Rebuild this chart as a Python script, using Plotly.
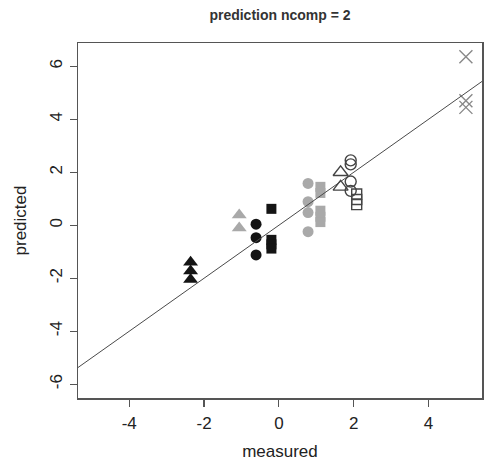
import plotly.graph_objects as go

# ---- data ----
groups = ["g1", "g2", "g3", "g4", "g5", "g6", "g7", "g8", "g9", "g10"]
measured = {
    "g1": [-2.36, -2.36, -2.36],
    "g2": [-1.06, -1.06],
    "g3": [-0.61, -0.61, -0.61],
    "g4": [-0.2, -0.2, -0.2, -0.2],
    "g5": [0.78, 0.78, 0.78, 0.78],
    "g6": [1.11, 1.11, 1.11, 1.11, 1.11],
    "g7": [1.65, 1.65],
    "g8": [1.92, 1.92, 1.92, 1.92],
    "g9": [2.08, 2.08, 2.08],
    "g10": [5.0, 5.0, 5.0],
}
predicted = {
    "g1": [-1.4, -1.73, -2.05],
    "g2": [0.39, -0.1],
    "g3": [0.04, -0.47, -1.12],
    "g4": [0.62, -0.55, -0.72, -0.88],
    "g5": [1.58, 0.89, 0.48, -0.24],
    "g6": [1.45, 1.22, 0.55, 0.32, 0.12],
    "g7": [2.0, 1.45],
    "g8": [2.45, 2.3, 1.65, 1.3],
    "g9": [1.18, 0.97, 0.78],
    "g10": [6.36, 4.7, 4.45],
}
x_ticks = [-4, -2, 0, 2, 4]
y_ticks = [-6, -4, -2, 0, 2, 4, 6]
abline_intercept = 0.0
abline_slope = 1.0

# ---- styles ----
BLACK = "#141414"
GREY = "#a9a9a9"
OUTL = "#444444"
styles = {
    "g1": dict(symbol="triangle-up", size=13, color=BLACK),
    "g2": dict(symbol="triangle-up", size=13, color=GREY),
    "g3": dict(symbol="circle", size=11, color=BLACK),
    "g4": dict(symbol="square", size=10, color=BLACK),
    "g5": dict(symbol="circle", size=11, color=GREY),
    "g6": dict(symbol="square", size=10, color=GREY),
    "g7": dict(symbol="triangle-up-open", size=13, color=OUTL, line=dict(width=1.4, color=OUTL)),
    "g8": dict(symbol="circle-open", size=11, color=OUTL, line=dict(width=1.4, color=OUTL)),
    "g9": dict(symbol="square-open", size=10, color=OUTL, line=dict(width=1.4, color=OUTL)),
    "g10": dict(symbol="x-thin-open", size=13, color="#888888", line=dict(width=1.4, color="#888888")),
}

xr = [-5.37, 5.43]
yr = [-6.52, 6.88]

fig = go.Figure()
for g in groups:
    fig.add_trace(go.Scatter(x=measured[g], y=predicted[g], mode="markers",
                             marker=styles[g], showlegend=False, cliponaxis=False,
                             hoverinfo="skip"))

fig.add_shape(type="line", xref="x", yref="y",
              x0=xr[0], y0=abline_intercept + abline_slope * xr[0],
              x1=xr[1], y1=abline_intercept + abline_slope * xr[1],
              line=dict(color="#4a4a4a", width=1), layer="above")

font = "Liberation Sans, Arial, sans-serif"
TXT = "#222222"
axis_common = dict(showgrid=False, zeroline=False, showline=True, mirror=True,
                   linecolor="#555555", linewidth=1.5, ticks="outside", ticklen=7,
                   tickcolor="#555555", tickwidth=1.2, automargin=False,
                   tickfont=dict(family=font, size=17, color=TXT))

fig.update_layout(
    width=486, height=473,
    margin=dict(l=78, r=4, t=43, b=75),
    paper_bgcolor="white", plot_bgcolor="white",
    title=dict(text="<b>prediction ncomp = 2</b>", x=(78 + 202) / 486, xanchor="center",
               y=1 - 15 / 473, yanchor="middle", automargin=False,
               font=dict(family=font, size=14, color="#333333")),
    xaxis=dict(range=xr, tickvals=x_ticks, ticktext=[str(v) for v in x_ticks],
               ticklabelstandoff=2,
               title=dict(text="measured", standoff=13,
                          font=dict(family=font, size=17, color=TXT)),
               **axis_common),
    yaxis=dict(range=yr, tickvals=y_ticks, ticktext=[str(v) for v in y_ticks],
               tickangle=-90, ticklabelstandoff=1,
               title=dict(text="predicted", standoff=16,
                          font=dict(family=font, size=17, color=TXT)),
               **axis_common),
)

fig.write_html("out.html", config={"displayModeBar": False, "staticPlot": True},
               post_script="document.body.style.margin='0px';document.body.style.overflow='hidden';")
